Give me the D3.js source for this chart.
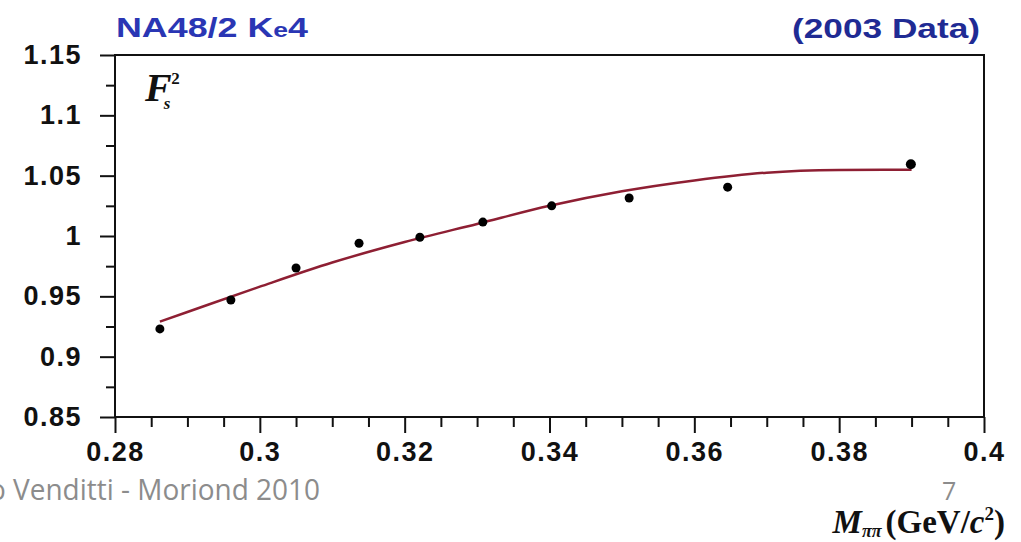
<!DOCTYPE html>
<html>
<head>
<meta charset="utf-8">
<script src="https://cdnjs.cloudflare.com/ajax/libs/d3/7.8.5/d3.min.js"></script>
<style>
  body { margin: 0; background: #fff; }
  .tick text { font-family: "Liberation Sans", Arial, sans-serif; font-weight: bold; font-size: 27px; fill: #111; letter-spacing: 1.5px; }
</style>
</head>
<body>
<div id="chart"></div>
<script>
// Measured points (M_pipi in GeV/c^2, F_s^2)
var massValues = [0.2862, 0.2960, 0.3050, 0.3137, 0.3221, 0.3308, 0.3403, 0.3510, 0.3646, 0.3899];
var fsValues   = [0.923, 0.947, 0.9735, 0.994, 0.999, 1.0115, 1.025, 1.0315, 1.0405, 1.0595];

// Fitted curve
var fitMass = [0.2862, 0.290, 0.300, 0.310, 0.320, 0.330, 0.340, 0.350, 0.360, 0.370, 0.380, 0.390];
var fitFs   = [0.929, 0.937, 0.958, 0.978, 0.995, 1.010, 1.025, 1.037, 1.046, 1.0525, 1.0547, 1.055];

// Axis ticks
var xTicks = [0.28, 0.3, 0.32, 0.34, 0.36, 0.38, 0.4];
var xTickLabels = ["0.28", "0.3", "0.32", "0.34", "0.36", "0.38", "0.4"];
var yTicks = [0.85, 0.9, 0.95, 1, 1.05, 1.1, 1.15];
var yTickLabels = ["0.85", "0.9", "0.95", "1", "1.05", "1.1", "1.15"];

var svgWidth = 1021;
var svgHeight = 542;

var plot = { left: 115, right: 984, top: 55, bottom: 417 };

var svg = d3.select("#chart")
  .append("svg")
  .attr("width", svgWidth)
  .attr("height", svgHeight);

var xScale = d3.scaleLinear().domain([0.28, 0.4]).range([plot.left, plot.right]);
var yScale = d3.scaleLinear().domain([0.85, 1.15]).range([plot.bottom, plot.top]);

// minor ticks (every 0.005 on x, 0.025 on y), skipping the majors
var xMinor = d3.range(0, 25).map(i => 0.28 + i * 0.005).filter((d, i) => i % 4 != 0);
var yMinor = d3.range(0, 13).map(i => 0.85 + i * 0.025).filter((d, i) => i % 2 != 0);

// X axis
svg.append("g")
  .attr("transform", `translate(0, ${plot.bottom})`)
  .call(d3.axisBottom(xScale).tickValues(xMinor).tickSize(10).tickFormat(""))
  .call(g => g.select(".domain").remove());

svg.append("g")
  .attr("transform", `translate(0, ${plot.bottom})`)
  .call(d3.axisBottom(xScale).tickValues(xTicks).tickSize(16).tickPadding(9)
    .tickFormat((d, i) => xTickLabels[i]))
  .call(g => g.select(".domain").remove());

// Y axis
svg.append("g")
  .attr("transform", `translate(${plot.left}, 0)`)
  .call(d3.axisLeft(yScale).tickValues(yMinor).tickSize(9).tickFormat(""))
  .call(g => g.select(".domain").remove());

svg.append("g")
  .attr("transform", `translate(${plot.left}, 0)`)
  .call(d3.axisLeft(yScale).tickValues(yTicks).tickSize(15).tickPadding(18)
    .tickFormat((d, i) => yTickLabels[i]))
  .call(g => g.select(".domain").remove());

svg.selectAll(".tick line").attr("stroke", "#111").attr("stroke-width", 2);

// frame
svg.append("rect")
  .attr("x", plot.left)
  .attr("y", plot.top)
  .attr("width", plot.right - plot.left)
  .attr("height", plot.bottom - plot.top)
  .attr("fill", "none")
  .attr("stroke", "#111")
  .attr("stroke-width", 2);

// fit curve
var fitData = fitMass.map((m, i) => ({ m: m, f: fitFs[i] }));
var line = d3.line()
  .x(d => xScale(d.m))
  .y(d => yScale(d.f))
  .curve(d3.curveMonotoneX);

svg.append("path")
  .datum(fitData)
  .attr("d", line)
  .attr("fill", "none")
  .attr("stroke", "#8e1f33")
  .attr("stroke-width", 2.5);

// data points
var points = massValues.map((m, i) => ({ m: m, f: fsValues[i] }));
svg.selectAll(".pt")
  .data(points)
  .enter()
  .append("circle")
  .attr("class", "pt")
  .attr("cx", d => xScale(d.m))
  .attr("cy", d => yScale(d.f))
  .attr("r", (d, i) => i == points.length - 1 ? 5 : 4.5)
  .attr("fill", "#000");

// titles
var title = svg.append("text")
  .attr("x", 116)
  .attr("y", 37)
  .attr("font-family", "Liberation Sans, Arial, sans-serif")
  .attr("font-weight", "bold")
  .attr("font-size", "27px")
  .attr("fill", "#2a36b4")
  .attr("textLength", 192)
  .attr("lengthAdjust", "spacingAndGlyphs");
title.append("tspan").text("NA48/2 K");
title.append("tspan").attr("font-size", "20px").text("e");
title.append("tspan").text("4");

svg.append("text")
  .attr("x", 980)
  .attr("y", 38)
  .attr("text-anchor", "end")
  .attr("font-family", "Liberation Sans, Arial, sans-serif")
  .attr("font-weight", "bold")
  .attr("font-size", "27px")
  .attr("fill", "#1f2b94")
  .attr("textLength", 188)
  .attr("lengthAdjust", "spacingAndGlyphs")
  .text("(2003 Data)");

// F_s^2 label
var fLabel = svg.append("text")
  .attr("x", 145)
  .attr("y", 101)
  .attr("font-family", "Liberation Serif, Times New Roman, serif")
  .attr("font-style", "italic")
  .attr("font-weight", "bold")
  .attr("font-size", "40px")
  .attr("fill", "#111");
fLabel.append("tspan").text("F");
fLabel.append("tspan").attr("font-size", "17px").attr("dy", 8).attr("dx", -8).text("s");
fLabel.append("tspan").attr("font-size", "17px").attr("font-style", "normal").attr("dy", -25).attr("dx", 1).text("2");

// x axis title
var xTitle = svg.append("text")
  .attr("x", 1005)
  .attr("y", 533)
  .attr("text-anchor", "end")
  .attr("font-family", "Liberation Serif, Times New Roman, serif")
  .attr("font-weight", "bold")
  .attr("font-size", "33px")
  .attr("fill", "#111");
xTitle.append("tspan").attr("font-style", "italic").text("M");
xTitle.append("tspan").attr("font-size", "18px").attr("font-style", "italic").attr("dy", 4).text("ππ");
xTitle.append("tspan").attr("dy", -4).attr("dx", 4).text("(GeV/");
xTitle.append("tspan").attr("font-style", "italic").text("c");
xTitle.append("tspan").attr("font-size", "19px").attr("dy", -13).text("2");
xTitle.append("tspan").attr("dy", 13).text(")");

// slide footer
svg.append("text")
  .attr("x", -11)
  .attr("y", 500)
  .attr("font-family", "Open Sans, Liberation Sans, sans-serif")
  .attr("font-size", "29px")
  .attr("fill", "#8c8c8c")
  .attr("textLength", 331)
  .attr("lengthAdjust", "spacingAndGlyphs")
  .text("o Venditti - Moriond 2010");

svg.append("text")
  .attr("x", 942)
  .attr("y", 500)
  .attr("font-family", "Open Sans, Liberation Sans, sans-serif")
  .attr("font-size", "25px")
  .attr("fill", "#8c8c8c")
  .text("7");
</script>
</body>
</html>
